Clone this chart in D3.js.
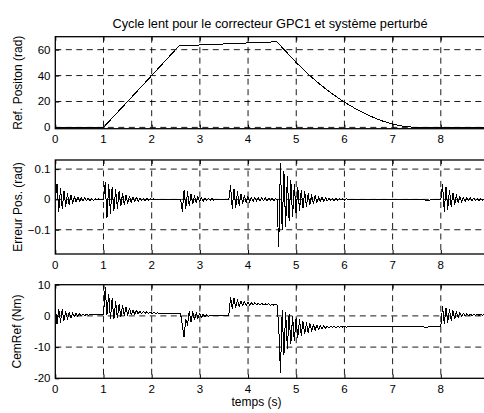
<!DOCTYPE html>
<html>
<head>
<meta charset="utf-8">
<script src="https://cdn.jsdelivr.net/npm/d3@7"></script>
<style>
  html, body { margin: 0; padding: 0; background: #fff; }
  svg { display: block; font-family: "Liberation Sans", Arial, sans-serif; }
</style>
</head>
<body>
<svg id="chart" width="484" height="413"></svg>
<script>
// ---------- DATA ----------
const titleText = "Cycle lent pour le correcteur GPC1 et système perturbé";
const xLabel = "temps (s)";
const yLabels = ["Ref. Positon (rad)", "Erreur Pos. (rad)", "CemRef (Nm)"];
const xTicks = [0, 1, 2, 3, 4, 5, 6, 7, 8];
const yTicksRef = [0, 20, 40, 60];
const yTicksErr = [-0.1, 0, 0.1];
const yTicksCem = [-20, -10, 0, 10];

// Panel 1: reference position (time, value)
const refTime = [0, 1, 2, 2.57, 3, 3.5, 4, 4.55, 4.6, 4.8, 5.0, 5.25, 5.5, 5.75, 6.0, 6.25, 6.5, 6.75, 7.0, 7.2, 7.4, 7.6, 9];
const refValue = [0, 0, 40, 63, 63.6, 64.4, 65.2, 66, 66, 58, 50, 41, 33, 25.8, 19.5, 14, 9.3, 5.4, 2.6, 1, 0.2, 0, 0];

// Oscillation half-period (s) shared by the bursts
const halfPeriod = 0.036;

// Panel 2: position error bursts (start time, level before, successive extremes)
const errStarts = [0, 1.0, 2.6, 3.6, 4.6, 7.65, 8.0];
const errLevels = [0, 0, 0, 0, 0, 0, 0];
const errBurst0 = [0.05, -0.04, 0.035, -0.03, 0.028, -0.024, 0.02, -0.018, 0.015, -0.012, 0.01, -0.009, 0.008, -0.007, 0.006, -0.005, 0.005, -0.004, 0.004, -0.003, 0.003, -0.003, 0.002, -0.002, 0.002, -0.001, 0];
const errBurst1 = [0.055, -0.062, 0.05, -0.045, 0.04, -0.036, 0.032, -0.029, 0.026, -0.022, 0.02, -0.017, 0.015, -0.013, 0.011, -0.01, 0.009, -0.008, 0.007, -0.006, 0.005, -0.005, 0.004, -0.004, 0.003, -0.003, 0.003, -0.002, 0.002, -0.001, 0];
const errBurst2 = [-0.04, 0.03, -0.03, 0.025, -0.021, 0.018, -0.015, 0.012, -0.01, 0.009, -0.008, 0.007, -0.006, 0.005, -0.004, 0.004, -0.003, 0.003, -0.002, 0.001, 0];
const errBurst3 = [0.046, -0.03, 0.035, -0.028, 0.025, -0.02, 0.018, -0.015, 0.013, -0.011, 0.01, -0.009, 0.008, -0.007, 0.007, -0.006, 0.006, -0.005, 0.005, -0.005, 0.005, -0.004, 0.004, -0.004, 0.004, -0.004, 0.004, -0.004];
const errBurst4 = [-0.155, 0.12, -0.1, 0.092, -0.09, 0.075, -0.07, 0.062, -0.056, 0.05, -0.045, 0.04, -0.036, 0.031, -0.028, 0.025, -0.022, 0.02, -0.017, 0.015, -0.013, 0.012, -0.01, 0.009, -0.008, 0.007, -0.006, 0.006, -0.005, 0.005, -0.004, 0.004, -0.004, 0.003, -0.003, 0.003, -0.002, 0.002, -0.002, 0.002, -0.001, 0];
const errBurst5 = [-0.004, -0.005, -0.003, -0.001, 0];
const errBurst6 = [0.05, -0.04, 0.04, -0.032, 0.03, -0.025, 0.022, -0.018, 0.015, -0.012, 0.01, -0.009, 0.008, -0.007, 0.006, -0.005, 0.005, -0.004, 0.004, -0.003, 0.003, -0.003, 0.002, -0.002, 0.002, -0.002, 0.002, -0.002, 0.002, -0.002];

// Panel 3: torque reference bursts
const cemStarts = [0, 1.0, 2.6, 3.6, 4.6, 7.65, 8.0];
const cemLevels = [2.8, 0.3, 0.7, 0, 3.5, -3.5, -3.3];
const cemBurst0 = [-2.5, 2.2, -2, 2, -1.5, 1.5, -1, 1.2, -0.6, 1, -0.3, 0.8, -0.1, 0.7, 0, 0.6, 0.1, 0.5, 0.2, 0.5, 0.3, 0.4, 0.3, 0.4, 0.3, 0.4];
const cemBurst1 = [9.2, 0.3, 7, -0.8, 5.5, -1, 4.5, -0.6, 3.8, -0.3, 3.2, 0, 2.8, 0.2, 2.4, 0.3, 2, 0.5, 1.8, 0.6, 1.6, 0.7, 1.4, 0.8, 1.3, 0.8, 1.2, 0.8, 1.1, 0.8, 1.0, 0.8, 0.9, 0.7];
const cemBurst2 = [-3, -6.8, -1, -3, 1.5, -2, 1.3, -1.2, 1, -0.8, 0.8, -0.5, 0.5, -0.3, 0.3, -0.1, 0.2, 0, 0.1, 0];
const cemBurst3 = [6, 2.4, 5.6, 2.8, 5.1, 3, 4.8, 3.2, 4.6, 3.3, 4.4, 3.4, 4.3, 3.5, 4.2, 3.5, 4.1, 3.5, 4, 3.5, 3.9, 3.5, 3.9, 3.4, 3.8, 3.4, 3.8];
const cemBurst4 = [-3, -18.2, 1.7, -12.5, 1.2, -10.5, 0.5, -9, -0.2, -8, -0.8, -7, -1.3, -6.3, -1.8, -5.8, -2.2, -5.3, -2.5, -4.9, -2.7, -4.6, -2.9, -4.3, -3.1, -4.1, -3.2, -3.9, -3.3, -3.8, -3.3, -3.7, -3.4, -3.7, -3.4, -3.6, -3.4, -3.6, -3.4, -3.6, -3.5];
const cemBurst5 = [-3.8, -3.6, -3.3, -3.3];
const cemBurst6 = [3, -2.5, 2.5, -2, 2, -1.5, 1.7, -1, 1.4, -0.6, 1.1, -0.3, 0.9, -0.1, 0.7, 0, 0.6, 0.1, 0.5, 0.2, 0.5, 0.2, 0.45, 0.25, 0.45, 0.3, 0.4, 0.3];

const errBursts = [errBurst0, errBurst1, errBurst2, errBurst3, errBurst4, errBurst5, errBurst6];
const cemBursts = [cemBurst0, cemBurst1, cemBurst2, cemBurst3, cemBurst4, cemBurst5, cemBurst6];
const tEnd = 9;

// ---------- BUILD SERIES ----------
function buildBursts(starts, levels, bursts) {
  const pts = [];
  starts.forEach((t0, k) => {
    pts.push([t0, levels[k]]);
    bursts[k].forEach((v, i) => pts.push([t0 + (i + 1) * halfPeriod, v]));
  });
  const last = pts[pts.length - 1];
  pts.push([tEnd, last[1]]);
  return pts;
}
const refSeries = refTime.map((t, i) => [t, refValue[i]]);
const errSeries = buildBursts(errStarts, errLevels, errBursts);
const cemSeries = buildBursts(cemStarts, cemLevels, cemBursts);

// ---------- LAYOUT ----------
const svg = d3.select("#chart");
const x = d3.scaleLinear().domain([0, 9]).range([55.3, 489]);

const panels = [
  { top: 36.7, bottom: 128.7, domain: [-1, 70], ticks: yTicksRef, fmt: d => d, data: refSeries, label: yLabels[0], labelX: 21.5 },
  { top: 160, bottom: 254, domain: [-0.18, 0.13], ticks: yTicksErr, fmt: d => d === 0 ? "0" : d3.format(".1f")(d), data: errSeries, label: yLabels[1], labelX: 21.5 },
  { top: 284.7, bottom: 378.3, domain: [-20, 10], ticks: yTicksCem, fmt: d => d, data: cemSeries, label: yLabels[2], labelX: 20.5 }
];

panels.forEach((p, idx) => {
  const y = d3.scaleLinear().domain(p.domain).range([p.bottom, p.top]);
  const g = svg.append("g");
  const x0 = x.range()[0], x1 = x.range()[1];

  const cid = "clip" + idx;
  svg.append("clipPath").attr("id", cid)
    .append("rect").attr("x", x0).attr("y", p.top).attr("width", x1 - x0).attr("height", p.bottom - p.top);

  // grid
  g.append("g").selectAll("line").data(xTicks.filter(t => t > 0)).join("line")
    .attr("x1", d => x(d)).attr("x2", d => x(d))
    .attr("y1", p.top).attr("y2", p.bottom)
    .attr("stroke", "#000").attr("stroke-width", 0.9).attr("stroke-dasharray", "6,4.5");
  g.append("g").selectAll("line").data(p.ticks.filter(t => y(t) > p.top + 1 && y(t) < p.bottom - 1)).join("line")
    .attr("x1", x0).attr("x2", x1)
    .attr("y1", d => y(d)).attr("y2", d => y(d))
    .attr("stroke", "#000").attr("stroke-width", 0.9).attr("stroke-dasharray", "6,4.5");

  // data line
  g.append("path").datum(p.data)
    .attr("clip-path", `url(#${cid})`)
    .attr("fill", "none").attr("stroke", "#000").attr("stroke-width", 1)
    .attr("stroke-linejoin", "round")
    .attr("shape-rendering", "crispEdges")
    .attr("d", d3.line().x(d => x(d[0])).y(d => y(d[1])));

  // axes box
  g.append("rect").attr("x", x0).attr("y", p.top).attr("width", x1 - x0).attr("height", p.bottom - p.top)
    .attr("fill", "none").attr("stroke", "#000").attr("stroke-width", 1.3);

  // tick marks (inward)
  const xAxisB = d3.axisBottom(x).tickValues(xTicks).tickSize(-4).tickFormat("");
  const xAxisT = d3.axisTop(x).tickValues(xTicks).tickSize(-4).tickFormat("");
  const yAxisL = d3.axisLeft(y).tickValues(p.ticks).tickSize(-4).tickFormat("");
  [ [xAxisB, `translate(0,${p.bottom})`], [xAxisT, `translate(0,${p.top})`], [yAxisL, `translate(${x0},0)`] ]
    .forEach(([ax, tr]) => {
      const a = g.append("g").attr("transform", tr).call(ax);
      a.select(".domain").remove();
      a.selectAll("line").attr("stroke", "#000");
    });

  // tick labels
  g.append("g").selectAll("text").data(xTicks).join("text")
    .attr("x", d => x(d)).attr("y", p.bottom + 14.5)
    .attr("text-anchor", "middle").attr("font-size", 11.5).attr("fill", "#000")
    .text(d => d);
  g.append("g").selectAll("text").data(p.ticks).join("text")
    .attr("x", 50.5).attr("y", d => y(d) + 4)
    .attr("text-anchor", "end").attr("font-size", 11.5).attr("fill", "#000")
    .text(p.fmt);

  // y label
  svg.append("text")
    .attr("transform", `translate(${p.labelX},${(p.top + p.bottom) / 2}) rotate(-90)`)
    .attr("text-anchor", "middle").attr("font-size", 12).attr("fill", "#000")
    .text(p.label);
});

// title and x label
svg.append("text").attr("x", 270).attr("y", 28)
  .attr("text-anchor", "middle").attr("font-size", 12.8).attr("fill", "#000")
  .text(titleText);
svg.append("text").attr("x", 256.5).attr("y", 405.5)
  .attr("text-anchor", "middle").attr("font-size", 12).attr("fill", "#000")
  .text(xLabel);
</script>
</body>
</html>
